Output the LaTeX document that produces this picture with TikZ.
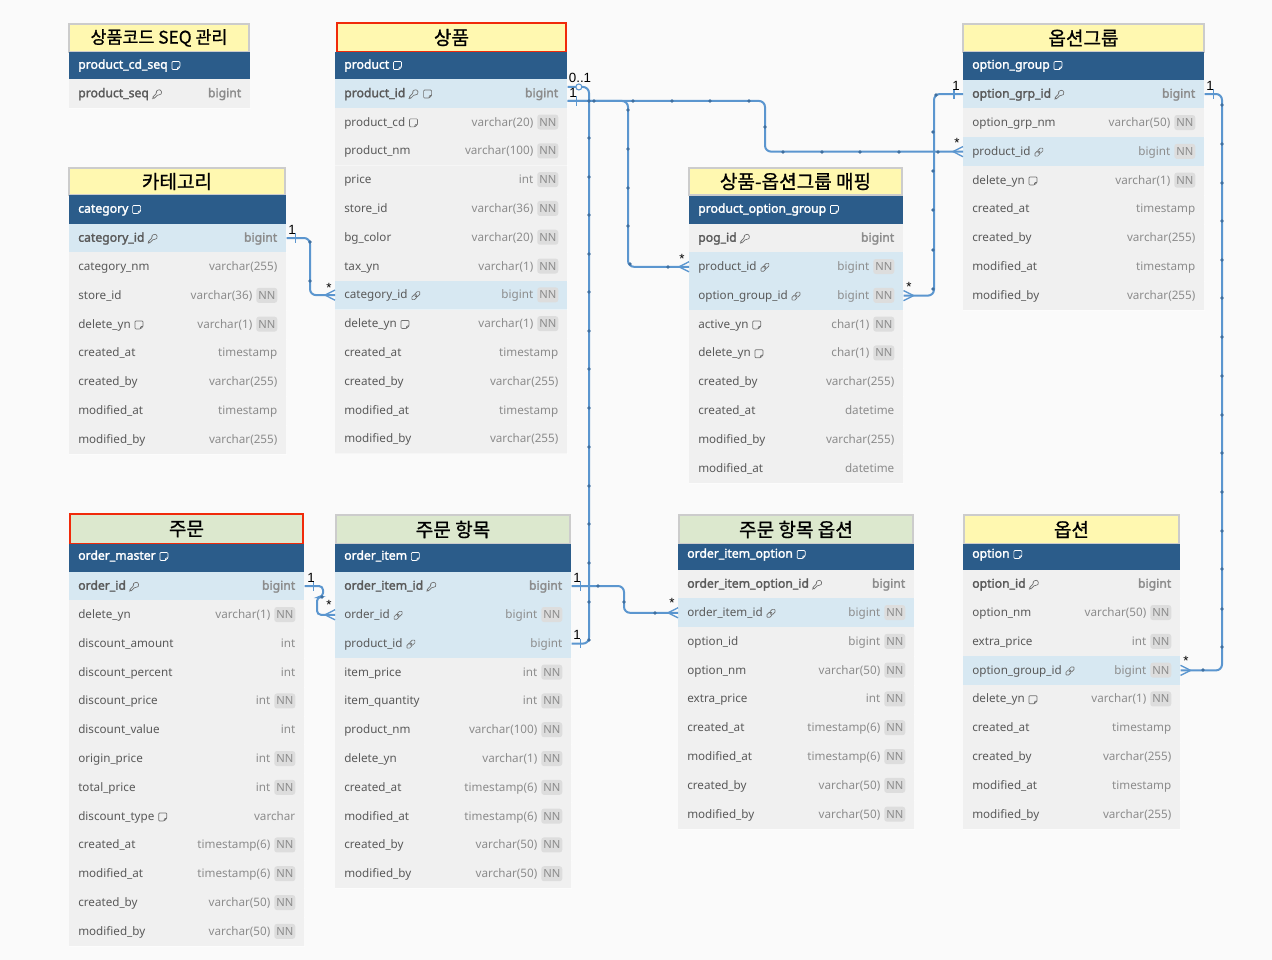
\documentclass[tikz,border=0pt]{standalone}
\usepackage{fontspec}
\setmainfont{Noto Sans}[BoldFont={Noto Sans},BoldFeatures={FakeBold=2}]
\newfontfamily\krfont{Noto Sans CJK KR}[FakeBold=0.9]
\newfontfamily\lblfont{Liberation Sans}
\definecolor{pagebg}{HTML}{FAFAFA}
\definecolor{rowpl}{HTML}{F0F0F0}
\definecolor{rowhl}{HTML}{D7E8F2}
\definecolor{hdrbg}{HTML}{2B5C8A}
\definecolor{ttlY}{HTML}{FFF8B0}
\definecolor{ttlG}{HTML}{DCE8CE}
\definecolor{ttlB}{HTML}{CCCCCC}
\definecolor{ttlR}{HTML}{F02A0A}
\definecolor{txtF}{HTML}{5A5A5A}
\definecolor{txtT}{HTML}{8C8C8C}
\definecolor{iconc}{HTML}{707070}
\definecolor{nnbg}{HTML}{DDDDDD}
\definecolor{linkc}{HTML}{5B96CF}
\definecolor{dotc}{HTML}{3F6F9F}
\newcommand\fsz{\fontsize{8.75pt}{10pt}\selectfont}
\newcommand\fbz{\bfseries\fontsize{9.15pt}{10pt}\selectfont}
\tikzset{
  pl/.style={fill=rowpl},
  hl/.style={fill=rowhl},
  rowbox/.style={draw=none,inner sep=0pt,minimum height=21.6pt,anchor=west},
  fld/.style={inner sep=0pt,anchor=west,yshift=-.4pt,text height=6.6pt,text depth=1.8pt,font=\fsz,text=txtF},
  typ/.style={inner sep=0pt,anchor=east,yshift=-.4pt,text height=6.6pt,text depth=1.8pt,font=\fsz,text=txtT},
  nnb/.style={fill=nnbg,rounded corners=2pt,inner sep=0pt,minimum width=15.75pt,minimum height=11.25pt,anchor=east,yshift=.2pt,font=\fontsize{8.4pt}{10pt}\selectfont,text=txtT},
  ttl/.style={line width=1.5pt,inner sep=0pt,font=\krfont\fontsize{14.3pt}{15pt}\selectfont,text=black},
  hdrt/.style={inner sep=0pt,anchor=west,yshift=-.4pt,text height=6.6pt,text depth=1.8pt,font=\fbz,text=white},
  conn/.style={draw=linkc,line width=1.5pt,rounded corners=4.5pt},
  mark line/.style={draw=linkc,line width=1pt},
  lbl/.style={inner sep=0pt,font=\lblfont\fontsize{10pt}{10pt}\selectfont,text=black},
  iconl/.style={draw=\icol,line width=0.5pt,rounded corners=0.7pt},
}
\def\icol{iconc}
\newcommand\Tb[3]{\xdef\tL{#1}\xdef\tR{#2}\xdef\tY{#3}}
\newcommand\TT[8]{\node[ttl,draw=#6,fill=#7,minimum width={(#4-#2)*.75pt},minimum height={(#5-#3)*.75pt}] (#1) at ({(#2+#4)/2},{(#3+#5)/2}) {\raisebox{.9pt}{#8}};}
\newcommand\Hd[5]{% name, y0, y1, text, text y
  \node[inner sep=0pt,fill=hdrbg,minimum width={(\tR-\tL)*.75pt},minimum height={(#3-#2)*.75pt}] (#1) at ({(\tL+\tR)/2},{(#2+#3)/2}) {};
  \node[hdrt] (#1-t) at ({\tL+9},#5) {#4};
  \def\icol{white}\def\curT{#1-t}\IcN{8}\def\icol{iconc}}
\newcommand\IcN[1]{\begin{scope}[shift={([xshift=#1*.75pt]\curT.east)}]
  \draw[iconl] (-4,-4) -- (4,-4) -- (4,1.5) -- (1.5,4) -- (-4,4) -- cycle;
  \draw[iconl] (1.5,4) -- (1.5,1.5) -- (4,1.5);
  \end{scope}}
\newcommand\IcK[1]{\begin{scope}[shift={([xshift=#1*.75pt]\curT.east)}]
  \draw[iconl] (-0.6,-0.8) -- (-4.2,2.8) -- (-4.2,4.2) -- (-2.8,4.2) -- (0.8,0.6) .. controls (3.5,1.5) and (5,-1) .. (4,-3) .. controls (2.5,-5) and (-1.5,-3.5) .. (-0.6,-0.8) -- cycle;
  \end{scope}}
\newcommand\IcL[1]{\begin{scope}[shift={([xshift=#1*.75pt]\curT.east)}]
  \draw[iconl,rounded corners=1.1pt,rotate=45] (-5.2,-1.9) rectangle (0.8,1.9);
  \draw[iconl,rounded corners=1.1pt,rotate=45] (-0.8,-1.9) rectangle (5.2,1.9);
  \end{scope}}
\newcommand\NextRow{\pgfmathparse{\tY+28.8}\xdef\tY{\pgfmathresult}}
\newcommand\RowBase[2]{%
  \node[rowbox,#2,minimum width={(\tR-\tL)*.75pt}] (#1) at (\tL,\tY) {};
  \draw[draw=white,opacity=.45,line width=.5pt] (#1.south west) -- (#1.south east);}
% name, style, field, icons, type, NN
\newcommand\Rw[6]{\RowBase{#1}{#2}%
  \node[fld] (#1-t) at ({\tL+9},\tY) {#3};
  \def\curT{#1-t}#4%
  \if\relax\detokenize{#6}\relax
    \node[typ] (#1-y) at ([xshift=-6.75pt]#1.east) {#5};
  \else
    \node[nnb] (#1-n) at ([xshift=-6.75pt]#1.east) {#6};
    \node[typ] (#1-y) at ([xshift=-25.5pt]#1.east) {#5};
  \fi
  \NextRow}
\newcommand\RwB[5]{\RowBase{#1}{#2}%
  \node[fld,font=\fbz] (#1-t) at ({\tL+9},\tY) {#3};
  \def\curT{#1-t}#4%
  \node[typ,font=\fbz] (#1-y) at ([xshift=-6.75pt]#1.east) {#5};
  \NextRow}
\newcommand\TickE[2]{\draw[mark line] ([xshift=6.75pt,yshift=#2+3.4pt]#1.east) -- ([xshift=6.75pt,yshift=#2-3.4pt]#1.east);}
\newcommand\TickW[2]{\draw[mark line] ([xshift=-6.75pt,yshift=#2+3.4pt]#1.west) -- ([xshift=-6.75pt,yshift=#2-3.4pt]#1.west);}
\newcommand\CrowW[2]{\draw[mark line] ([yshift=#2+3.8pt]#1.west) -- ([xshift=-7.5pt,yshift=#2]#1.west) -- ([yshift=#2-3.8pt]#1.west);}
\newcommand\CrowE[2]{\draw[mark line] ([yshift=#2+3.8pt]#1.east) -- ([xshift=7.5pt,yshift=#2]#1.east) -- ([yshift=#2-3.8pt]#1.east);}
\begin{document}
\begin{tikzpicture}[x=.75pt,y=-.75pt]
\useasboundingbox[fill=pagebg] (0,0) rectangle (1272,960);

% ---------- product_cd_seq
\Tb{69}{250}{93.5}
\TT{tSeq}{69}{24}{249}{52}{ttlB}{ttlY}{\fontsize{13pt}{15pt}\selectfont 상품코드 SEQ 관리}
\Hd{hSeq}{52}{80}{product\_cd\_seq}{65}
\RwB{s1}{pl}{product\_seq}{\IcK{8}}{bigint}

% ---------- product
\Tb{335}{567}{93.5}
\TT{tPr}{337}{23}{566}{52}{ttlR}{ttlY}{상품}
\Hd{hPr}{52}{80}{product}{65}
\RwB{pA}{hl}{product\_id}{\IcK{8}\IcN{22}}{bigint}
\Rw{pB}{pl}{product\_cd}{\IcN{8}}{varchar(20)}{NN}
\Rw{pC}{pl}{product\_nm}{}{varchar(100)}{NN}
\Rw{pD}{pl}{price}{}{int}{NN}
\Rw{pE}{pl}{store\_id}{}{varchar(36)}{NN}
\Rw{pF}{pl}{bg\_color}{}{varchar(20)}{NN}
\Rw{pG}{pl}{tax\_yn}{}{varchar(1)}{NN}
\Rw{pH}{hl}{category\_id}{\IcL{8}}{bigint}{NN}
\Rw{pI}{pl}{delete\_yn}{\IcN{8}}{varchar(1)}{NN}
\Rw{pJ}{pl}{created\_at}{}{timestamp}{}
\Rw{pK}{pl}{created\_by}{}{varchar(255)}{}
\Rw{pL}{pl}{modified\_at}{}{timestamp}{}
\Rw{pM}{pl}{modified\_by}{}{varchar(255)}{}

% ---------- category
\Tb{69}{286}{238}
\TT{tCa}{69}{168}{285}{195}{ttlB}{ttlY}{카테고리}
\Hd{hCa}{195}{224}{category}{209}
\RwB{cA}{hl}{category\_id}{\IcK{8}}{bigint}
\Rw{cB}{pl}{category\_nm}{}{varchar(255)}{}
\Rw{cC}{pl}{store\_id}{}{varchar(36)}{NN}
\Rw{cD}{pl}{delete\_yn}{\IcN{8}}{varchar(1)}{NN}
\Rw{cE}{pl}{created\_at}{}{timestamp}{}
\Rw{cF}{pl}{created\_by}{}{varchar(255)}{}
\Rw{cG}{pl}{modified\_at}{}{timestamp}{}
\Rw{cH}{pl}{modified\_by}{}{varchar(255)}{}

% ---------- mapping
\Tb{689}{903}{238}
\TT{tMa}{689}{168}{902}{195}{ttlB}{ttlY}{상품-옵션그룹 매핑}
\Hd{hMa}{196}{224}{product\_option\_group}{209}
\RwB{mA}{pl}{pog\_id}{\IcK{8}}{bigint}
\Rw{mB}{hl}{product\_id}{\IcL{8}}{bigint}{NN}
\Rw{mC}{hl}{option\_group\_id}{\IcL{8}}{bigint}{NN}
\Rw{mD}{pl}{active\_yn}{\IcN{8}}{char(1)}{NN}
\Rw{mE}{pl}{delete\_yn}{\IcN{8}}{char(1)}{NN}
\Rw{mF}{pl}{created\_by}{}{varchar(255)}{}
\Rw{mG}{pl}{created\_at}{}{datetime}{}
\Rw{mH}{pl}{modified\_by}{}{varchar(255)}{}
\Rw{mI}{pl}{modified\_at}{}{datetime}{}

% ---------- option group
\Tb{963}{1204}{94}
\TT{tOg}{963}{24}{1204}{52}{ttlB}{ttlY}{옵션그룹}
\Hd{hOg}{52}{80}{option\_group}{65}
\RwB{gA}{hl}{option\_grp\_id}{\IcK{8}}{bigint}
\Rw{gB}{pl}{option\_grp\_nm}{}{varchar(50)}{NN}
\Rw{gC}{hl}{product\_id}{\IcL{8}}{bigint}{NN}
\Rw{gD}{pl}{delete\_yn}{\IcN{8}}{varchar(1)}{NN}
\Rw{gE}{pl}{created\_at}{}{timestamp}{}
\Rw{gF}{pl}{created\_by}{}{varchar(255)}{}
\Rw{gG}{pl}{modified\_at}{}{timestamp}{}
\Rw{gH}{pl}{modified\_by}{}{varchar(255)}{}

% ---------- order master
\Tb{69}{304}{586}
\TT{tOm}{70}{514}{303}{544}{ttlR}{ttlG}{주문}
\Hd{hOm}{544}{572}{order\_master}{556}
\RwB{oA}{hl}{order\_id}{\IcK{8}}{bigint}
\Rw{oB}{pl}{delete\_yn}{}{varchar(1)}{NN}
\Rw{oC}{pl}{discount\_amount}{}{int}{}
\Rw{oD}{pl}{discount\_percent}{}{int}{}
\Rw{oE}{pl}{discount\_price}{}{int}{NN}
\Rw{oF}{pl}{discount\_value}{}{int}{}
\Rw{oG}{pl}{origin\_price}{}{int}{NN}
\Rw{oH}{pl}{total\_price}{}{int}{NN}
\Rw{oI}{pl}{discount\_type}{\IcN{8}}{varchar}{}
\Rw{oJ}{pl}{created\_at}{}{timestamp(6)}{NN}
\Rw{oK}{pl}{modified\_at}{}{timestamp(6)}{NN}
\Rw{oL}{pl}{created\_by}{}{varchar(50)}{NN}
\Rw{oM}{pl}{modified\_by}{}{varchar(50)}{NN}

% ---------- order item
\Tb{335}{571}{586}
\TT{tOi}{336}{515}{570}{544}{ttlB}{ttlG}{주문 항목}
\Hd{hOi}{544}{572}{order\_item}{556}
\RwB{iA}{hl}{order\_item\_id}{\IcK{8}}{bigint}
\Rw{iB}{hl}{order\_id}{\IcL{8}}{bigint}{NN}
\Rw{iC}{hl}{product\_id}{\IcL{8}}{bigint}{}
\Rw{iD}{pl}{item\_price}{}{int}{NN}
\Rw{iE}{pl}{item\_quantity}{}{int}{NN}
\Rw{iF}{pl}{product\_nm}{}{varchar(100)}{NN}
\Rw{iG}{pl}{delete\_yn}{}{varchar(1)}{NN}
\Rw{iH}{pl}{created\_at}{}{timestamp(6)}{NN}
\Rw{iI}{pl}{modified\_at}{}{timestamp(6)}{NN}
\Rw{iJ}{pl}{created\_by}{}{varchar(50)}{NN}
\Rw{iK}{pl}{modified\_by}{}{varchar(50)}{NN}

% ---------- order item option
\Tb{678}{914}{584}
\TT{tIo}{679}{515}{913}{544}{ttlB}{ttlG}{주문 항목 옵션}
\Hd{hIo}{544}{570}{order\_item\_option}{554}
\RwB{qA}{pl}{order\_item\_option\_id}{\IcK{8}}{bigint}
\Rw{qB}{hl}{order\_item\_id}{\IcL{8}}{bigint}{NN}
\Rw{qC}{pl}{option\_id}{}{bigint}{NN}
\Rw{qD}{pl}{option\_nm}{}{varchar(50)}{NN}
\Rw{qE}{pl}{extra\_price}{}{int}{NN}
\Rw{qF}{pl}{created\_at}{}{timestamp(6)}{NN}
\Rw{qG}{pl}{modified\_at}{}{timestamp(6)}{NN}
\Rw{qH}{pl}{created\_by}{}{varchar(50)}{NN}
\Rw{qI}{pl}{modified\_by}{}{varchar(50)}{NN}

% ---------- option
\Tb{963}{1180}{584}
\TT{tOp}{964}{515}{1179}{544}{ttlB}{ttlY}{옵션}
\Hd{hOp}{544}{570}{option}{554}
\RwB{rA}{pl}{option\_id}{\IcK{8}}{bigint}
\Rw{rB}{pl}{option\_nm}{}{varchar(50)}{NN}
\Rw{rC}{pl}{extra\_price}{}{int}{NN}
\Rw{rD}{hl}{option\_group\_id}{\IcL{8}}{bigint}{NN}
\Rw{rE}{pl}{delete\_yn}{\IcN{8}}{varchar(1)}{NN}
\Rw{rF}{pl}{created\_at}{}{timestamp}{}
\Rw{rG}{pl}{created\_by}{}{varchar(255)}{}
\Rw{rH}{pl}{modified\_at}{}{timestamp}{}
\Rw{rI}{pl}{modified\_by}{}{varchar(255)}{}

% ---------- routing waypoints
\coordinate (wA) at (765,127);
\coordinate (wB) at (628,180);
\coordinate (wC) at (589,300);
\coordinate (wD) at (310,270);
\coordinate (wE) at (934,200);
\coordinate (wF) at (1222,400);
\coordinate (wG) at (323,597);
\coordinate (wH) at (317,597);
\coordinate (wI) at (624,600);

% ---------- connectors
\draw[conn] ([yshift=-5.6pt]pA.east) -| (wA) |- (gC.west);
\draw[conn] ([yshift=-5.6pt]pA.east) -| (wB) |- (mB.west);
\draw[conn] ([yshift=4.9pt]pA.east) -| (wC) |- (iC.east);
\draw[conn] (cA.east) -| (wD) |- (pH.west);
\draw[conn] (mC.east) -| (wE) |- (gA.west);
\draw[conn] (gA.east) -| (wF) |- (rD.east);
\draw[conn,rounded corners=3pt] (oA.east) -| (wG) -- (wH) |- (iB.west);
\draw[conn] (iA.east) -| (wI) |- (qB.west);

% ---------- end marks
\TickE{pA}{-5.6pt}
\TickE{cA}{0pt}
\TickW{gA}{0pt}
\TickE{gA}{0pt}
\TickE{oA}{0pt}
\TickE{iA}{0pt}
\TickE{iC}{0pt}
\CrowW{gC}{0pt}
\CrowW{mB}{0pt}
\CrowW{pH}{0pt}
\CrowW{iB}{0pt}
\CrowW{qB}{0pt}
\CrowE{mC}{0pt}
\CrowE{rD}{0pt}
\node[circle,draw=linkc,line width=.8pt,fill=pagebg,minimum size=4.5pt,inner sep=0pt] (zeroone) at ([xshift=8.5pt,yshift=4.9pt]pA.east) {};

% ---------- waypoint dots
\fill[dotc] \foreach \px/\py in {
  589/101,594/101,633/101,672/101,710/101,749/101,765/127,783/152,822/152,860/152,899/152,938/152,
  628/110,628/149,628/188,628/226,630/264,668/267,
  589/138,589/177,589/215,589/254,589/292,589/331,589/369,589/408,589/447,589/486,589/524,589/563,589/602,589/640,
  310/242,310/281,
  933/132,933/171,933/210,933/250,933/289,936/95,
  1222/105,1222/144,1222/183,1222/221,1222/260,1222/298,1222/337,1222/376,1222/415,1222/453,1222/492,1222/531,1222/569,1222/609,1222/647,1203/670,
  322/597,598/586,624/602,655/613
} { (\px,\py) circle (1.9) };

% ---------- cardinality labels
\node[lbl] (l01) at (580,78) {0..1};
\node[lbl] (l1a) at (573,93) {1};
\node[lbl] (l1b) at (292,230) {1};
\node[lbl] (l1c) at (956,86) {1};
\node[lbl] (l1d) at (1210,86) {1};
\node[lbl] (l1e) at (311,578) {1};
\node[lbl] (l1f) at (577,578) {1};
\node[lbl] (l1g) at (577,635) {1};
\node[lbl] (s1a) at (329,288) {*};
\node[lbl] (s1b) at (682,259) {*};
\node[lbl] (s1c) at (957,143) {*};
\node[lbl] (s1d) at (909,287) {*};
\node[lbl] (s1e) at (329,605) {*};
\node[lbl] (s1f) at (672,603) {*};
\node[lbl] (s1g) at (1186,661) {*};
\end{tikzpicture}
\end{document}
